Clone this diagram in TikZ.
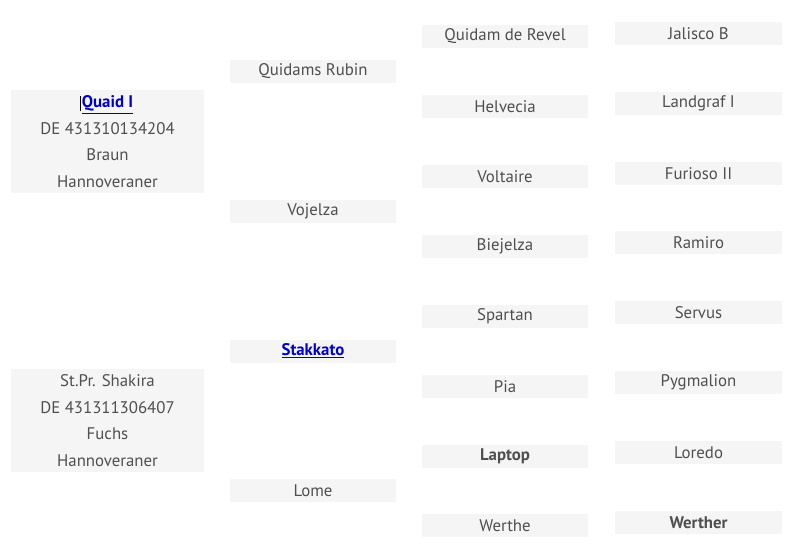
\documentclass[tikz,border=0pt]{standalone}
\usepackage{fontspec}
\setmainfont{PT Sans}
\usepackage{xcolor}
\usetikzlibrary{positioning}
\definecolor{cellgray}{HTML}{F5F5F5}
\definecolor{txtgray}{HTML}{4F4F4F}
\definecolor{linkblue}{HTML}{0000CC}
\tikzset{
  cell/.style={fill=cellgray, text=txtgray, inner sep=0pt, minimum height=17.25pt,
    font=\fontsize{12.6}{14}\selectfont},
  horse/.style={cell, minimum width=124.5pt},
  sire/.style={cell, minimum width=125.25pt},
  mainbox/.style={cell, minimum width=144.75pt, minimum height=77.25pt, align=center,
    font=\fontsize{12.6}{20}\selectfont},
}
\newcommand{\horselink}[1]{\textcolor{linkblue}{\bfseries\underline{#1}}}
% text cursor in front of a name
\newcommand{\caret}{\llap{\textcolor{black}{\rule[-3pt]{0.6pt}{11.5pt}}\hspace{0.5pt}}}
\begin{document}
\begin{tikzpicture}[x=0.75pt,y=-0.75pt]
  \useasboundingbox (0,0) rectangle (798,546);

  % Column 1: the two parents
  \node[mainbox] (father) at (107.5,141.5) {\caret\horselink{Quaid I}\\DE 431310134204\\Braun\\Hannoveraner};
  \node[mainbox] (mother) at (107.5,420.5) {St.Pr. Shakira\\DE 431311306407\\Fuchs\\Hannoveraner};

  % Column 2: grandparents
  \node[horse] (gp1) at (313,71.5) {Quidams Rubin};
  \node[horse] (gp2) at (313,211) {Vojelza};
  \node[horse] (gp3) at (313,351) {\horselink{Stakkato}};
  \node[horse] (gp4) at (313,490.5) {Lome};

  % Column 3: great-grandparents
  \node[horse] (ggp1) at (505,36.5) {Quidam de Revel};
  \node[horse] (ggp2) at (505,106.5) {Helvecia};
  \node[horse] (ggp3) at (505,176.5) {Voltaire};
  \node[horse] (ggp4) at (505,246.5) {Biejelza};
  \node[horse] (ggp5) at (505,316.5) {Spartan};
  \node[horse] (ggp6) at (505,386.5) {Pia};
  \node[horse] (ggp7) at (505,456.5) {\bfseries Laptop};
  \node[horse] (ggp8) at (505,525.5) {Werthe};

  % Column 4: great-great-grandsires
  \node[sire] (gggp1) at (698.5,33.5) {Jalisco B};
  \node[sire] (gggp2) at (698.5,103.5) {Landgraf I};
  \node[sire] (gggp3) at (698.5,173.5) {Furioso II};
  \node[sire] (gggp4) at (698.5,242.5) {Ramiro};
  \node[sire] (gggp5) at (698.5,312.5) {Servus};
  \node[sire] (gggp6) at (698.5,382.5) {Pygmalion};
  \node[sire] (gggp7) at (698.5,452.5) {Loredo};
  \node[sire] (gggp8) at (698.5,522.5) {\bfseries Werther};
\end{tikzpicture}
\end{document}
